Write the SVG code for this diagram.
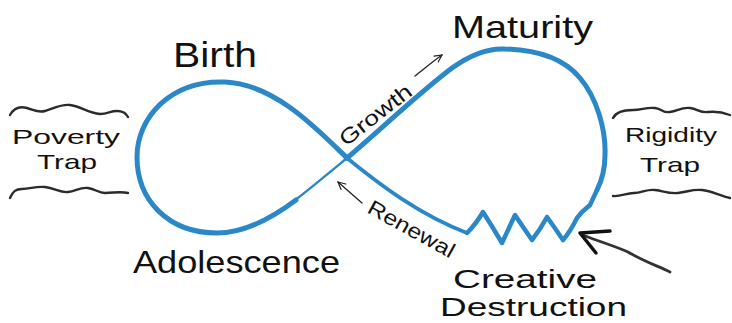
<svg xmlns="http://www.w3.org/2000/svg" width="732" height="323" viewBox="0 0 732 323">
  <defs>
    <style>
      .loop { fill: none; stroke: #2a87c8; stroke-linecap: round; stroke-linejoin: round; }
      .lbl { font-family: "Liberation Sans", Arial, sans-serif; fill: #111; }
      .big { font-size: 32px; }
      .cd { font-size: 26px; }
      .mid { font-size: 21px; }
      .wave { fill: none; stroke: #2b2b2b; stroke-width: 2.4; stroke-linecap: round; stroke-linejoin: round; }
      .thin { fill: none; stroke: #222; stroke-width: 1.3; stroke-linecap: round; }
    </style>
    <marker id="open" viewBox="0 0 10 10" refX="9" refY="5" markerWidth="9" markerHeight="9" markerUnits="userSpaceOnUse" orient="auto">
      <path d="M1,1 L9,5 L1,9" fill="none" stroke="#222" stroke-width="1.3" stroke-linecap="round"/>
    </marker>
  </defs>

  <g id="infinity-loop">
    <path class="loop" stroke-width="5" d="M347,158 C318,130 275,84 225,82 C170,80 137,118 137,157 C137,200 168,233 217,233 C245,233 272,218 296,200"/>
    <path class="loop" stroke-width="2.4" d="M294,201 C312,187 330,172 347,158"/>
    <path class="loop" stroke-width="5" d="M347,158 C380,130 420,92 452,68 C470,55 488,48 505,49 C540,50 565,60 580,78 C597,98 606,130 605,155 C605,172 601,182 597,190"/>
    <path class="loop" stroke-width="4.5" d="M597,190 L590,205 L582,212 L577,218 Q570,232 563,240 Q555,228 547,217 Q540,230 532,240 Q523,227 515,215 Q508,230 502,243 Q492,226 483,212 Q476,224 467,233"/>
    <path class="loop" stroke-width="3.6" d="M467,233 C420,215 380,185 347,158"/>
  </g>

  <g id="poverty-trap">
    <path class="wave" d="M10,115 C14,108 20,106 27,108 C34,110 38,113 45,111 C53,109 60,104 70,105 C80,106 88,113 100,114 C108,114 110,111 117,111 C122,111 126,113 128,117"/>
    <path class="wave" d="M10,198 C13,191 16,189 22,189 C30,189 36,186 45,187 C55,188 60,193 68,192 C76,191 80,187 88,188 C96,189 98,193 105,193 C114,193 120,191 128,193"/>
    <text class="lbl mid" x="12" y="144" textLength="108" lengthAdjust="spacingAndGlyphs">Poverty</text>
    <text class="lbl mid" x="37" y="169" textLength="60" lengthAdjust="spacingAndGlyphs">Trap</text>
  </g>

  <g id="rigidity-trap">
    <path class="wave" d="M613,118 C616,112 624,110 633,110 C642,110 646,107 655,108 C663,109 662,113 670,112 C678,111 681,107 690,108 C698,109 700,113 708,112 C717,111 722,112 730,115"/>
    <path class="wave" d="M613,196 C620,197 626,193 634,193 C642,193 646,189 655,190 C664,191 668,194 678,193 C688,192 692,189 702,190 C712,191 720,196 730,198"/>
    <text class="lbl mid" x="625" y="142" textLength="92" lengthAdjust="spacingAndGlyphs">Rigidity</text>
    <text class="lbl mid" x="640" y="172" textLength="60" lengthAdjust="spacingAndGlyphs">Trap</text>
  </g>

  <g id="label-birth">
    <text class="lbl" font-size="35" x="173" y="67" textLength="84" lengthAdjust="spacingAndGlyphs">Birth</text>
  </g>
  <g id="label-maturity">
    <text class="lbl big" x="452" y="38" textLength="141" lengthAdjust="spacingAndGlyphs">Maturity</text>
  </g>
  <g id="label-adolescence">
    <text class="lbl big" x="133" y="273" textLength="207" lengthAdjust="spacingAndGlyphs">Adolescence</text>
  </g>
  <g id="label-creative-destruction">
    <text class="lbl cd" x="453" y="288" textLength="144" lengthAdjust="spacingAndGlyphs">Creative</text>
    <text class="lbl cd" x="440" y="316" textLength="187" lengthAdjust="spacingAndGlyphs">Destruction</text>
  </g>
  <g id="label-growth">
    <text class="lbl mid" transform="translate(346,147) rotate(-38)" textLength="86" lengthAdjust="spacingAndGlyphs">Growth</text>
  </g>
  <g id="label-renewal">
    <text class="lbl mid" transform="translate(366,212) rotate(29)" textLength="96" lengthAdjust="spacingAndGlyphs">Renewal</text>
  </g>

  <g id="connectors">
    <path class="thin" d="M415,76 C424,69 432,62 442,55" marker-end="url(#open)"/>
    <path class="thin" d="M362,203 C354,196 346,189 338,182" marker-end="url(#open)"/>
    <path fill="none" stroke="#333" stroke-width="2.8" stroke-linecap="round" d="M670,272 C658,266 645,262 628,252 C615,246 600,242 583,235"/>
    <path fill="none" stroke="#111" stroke-width="3.5" stroke-linecap="round" stroke-linejoin="round" d="M610,231 L580,233 L596,253"/>
  </g>
</svg>
